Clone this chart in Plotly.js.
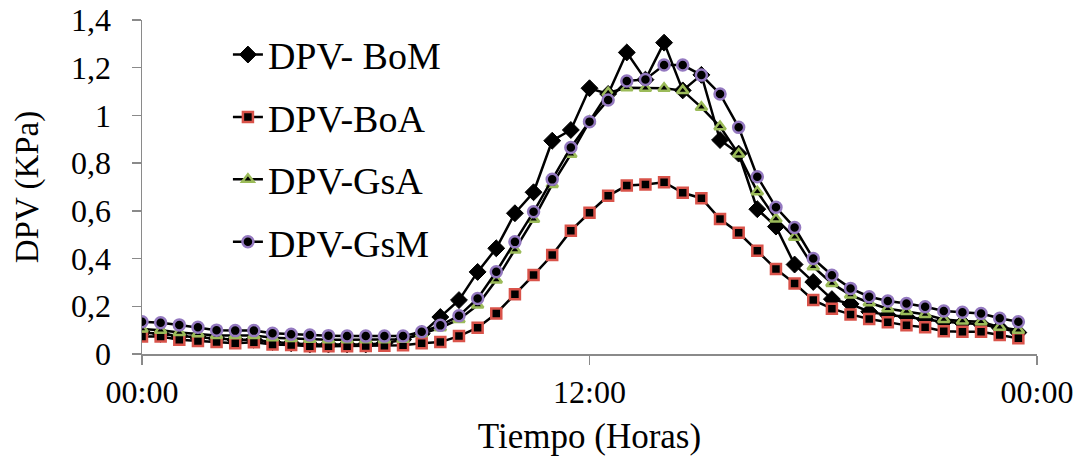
<!DOCTYPE html>
<html>
<head>
<meta charset="utf-8">
<script src="https://cdn.plot.ly/plotly-3.0.1.min.js"></script>
<style>
html,body{margin:0;padding:0;background:#fff;}
#chart{width:1088px;height:459px;}
</style>
</head>
<body>
<div id="chart"></div>
<script>
var times = ["00:00","00:30","01:00","01:30","02:00","02:30","03:00","03:30","04:00","04:30",
             "05:00","05:30","06:00","06:30","07:00","07:30","08:00","08:30","09:00","09:30",
             "10:00","10:30","11:00","11:30","12:00","12:30","13:00","13:30","14:00","14:30",
             "15:00","15:30","16:00","16:30","17:00","17:30","18:00","18:30","19:00","19:30",
             "20:00","20:30","21:00","21:30","22:00","22:30","23:00","23:30"];

var seriesNames = ["DPV- BoM", "DPV-BoA", "DPV-GsA", "DPV-GsM"];

var dpvBoM = [0.09,0.085,0.075,0.07,0.065,0.06,0.06,0.05,0.045,0.04,
              0.04,0.04,0.04,0.045,0.06,0.085,0.155,0.226,0.344,0.443,
              0.59,0.678,0.894,0.939,1.114,1.09,1.264,1.15,1.305,1.105,
              1.17,0.897,0.84,0.607,0.534,0.375,0.302,0.23,0.21,0.177,
              0.163,0.156,0.145,0.135,0.13,0.125,0.11,0.09];

var dpvBoA = [0.073,0.073,0.06,0.055,0.05,0.045,0.049,0.04,0.038,0.032,
              0.032,0.033,0.034,0.035,0.037,0.045,0.05,0.075,0.11,0.17,
              0.25,0.331,0.415,0.517,0.592,0.663,0.706,0.711,0.72,0.676,
              0.653,0.566,0.508,0.433,0.356,0.296,0.226,0.19,0.166,0.147,
              0.133,0.12,0.112,0.095,0.093,0.093,0.08,0.066];

var dpvGsA = [0.105,0.1,0.09,0.085,0.078,0.078,0.078,0.068,0.065,0.062,
              0.06,0.06,0.06,0.06,0.062,0.085,0.11,0.145,0.205,0.31,
              0.436,0.565,0.711,0.837,0.975,1.095,1.116,1.114,1.114,1.104,
              1.034,0.953,0.838,0.68,0.566,0.489,0.366,0.296,0.247,0.215,
              0.19,0.178,0.166,0.145,0.138,0.135,0.112,0.1];

var dpvGsM = [0.135,0.131,0.122,0.112,0.1,0.098,0.098,0.087,0.083,0.08,
              0.077,0.075,0.075,0.075,0.075,0.093,0.12,0.16,0.233,0.345,
              0.47,0.596,0.732,0.866,0.974,1.065,1.144,1.151,1.211,1.211,
              1.169,1.09,0.95,0.743,0.615,0.53,0.4,0.33,0.275,0.24,
              0.222,0.212,0.198,0.18,0.175,0.17,0.15,0.135];

var xTickLabels = ["00:00", "12:00", "00:00"];

var baseDay = "2000-01-01 ";
var xDates = times.map(function (t) { return baseDay + t; });

var FONT = "Liberation Serif, Times New Roman, serif";

function mk(name, y, symbol, size, fill, border, bw, grp) {
  return {
    type: "scatter", mode: "lines+markers", name: name, x: xDates, y: y,
    legendgroup: grp,
    line: {color: "#000000", width: 2.5},
    marker: {symbol: symbol, size: size, color: fill, line: {color: border, width: bw}}
  };
}

var traces = [
  mk(seriesNames[0], dpvBoM, "diamond", 13, "#000000", "#000000", 1, "g1"),
  mk(seriesNames[1], dpvBoA, "square", 10, "#000000", "#d9534a", 2.5, "g2"),
  mk(seriesNames[2], dpvGsA, "triangle-up", 10, "#000000", "#9bbb59", 2.5, "g3"),
  mk(seriesNames[3], dpvGsM, "circle", 11, "#000000", "#9479c0", 2.5, "g4")
];

var layout = {
  width: 1088, height: 459,
  margin: {l: 142, r: 51, t: 20, b: 105},
  paper_bgcolor: "#ffffff", plot_bgcolor: "#ffffff",
  font: {family: FONT, color: "#000000"},
  showlegend: true,
  legend: {
    x: 0.096, y: 0.99, xanchor: "left", yanchor: "top",
    bgcolor: "rgba(0,0,0,0)", tracegroupgap: 10,
    font: {family: FONT, size: 38, color: "#000000"}
  },
  xaxis: {
    type: "date",
    range: [baseDay + "00:00", "2000-01-02 00:00"],
    tickvals: [baseDay + "00:00", baseDay + "12:00", "2000-01-02 00:00"],
    ticktext: xTickLabels,
    ticks: "outside", ticklen: 9, tickwidth: 1.5, tickcolor: "#8a8a8a",
    showline: true, linecolor: "#8a8a8a", linewidth: 1.5,
    showgrid: false, zeroline: false,
    tickfont: {family: FONT, size: 32, color: "#000000"},
    title: {text: "Tiempo (Horas)", font: {family: FONT, size: 35, color: "#000000"}, standoff: 14}
  },
  yaxis: {
    range: [0, 1.4], dtick: 0.2, tick0: 0,
    ticks: "outside", ticklen: 9, tickwidth: 1.5, tickcolor: "#8a8a8a",
    ticklabelstandoff: 14,
    showline: true, linecolor: "#8a8a8a", linewidth: 1.5,
    showgrid: false, zeroline: false,
    tickfont: {family: FONT, size: 32, color: "#000000"},
    title: {text: "DPV (KPa)", font: {family: FONT, size: 33, color: "#000000"}, standoff: 22}
  },
  separators: ", "
};

Plotly.newPlot("chart", traces, layout, {displayModeBar: false, staticPlot: true});
</script>
</body>
</html>
